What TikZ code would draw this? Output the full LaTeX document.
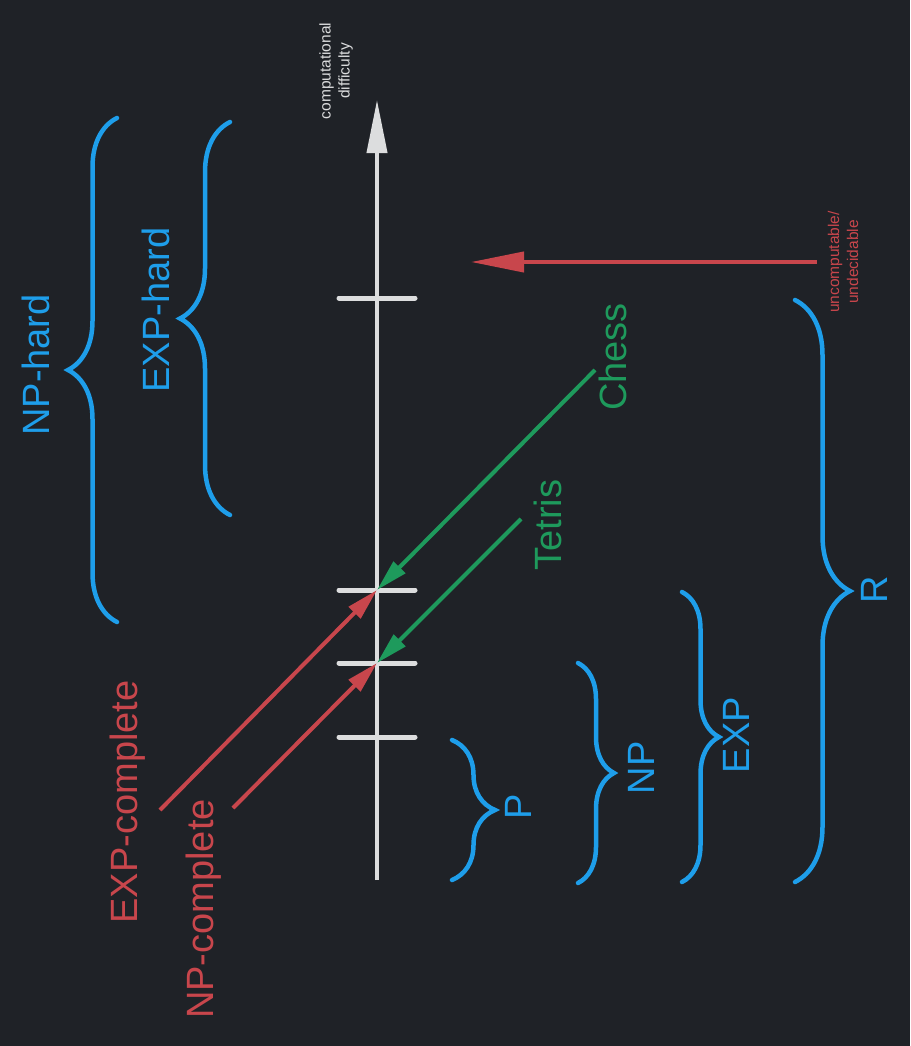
\documentclass[tikz,border=0pt]{standalone}
\usepackage{fontspec}
\setmainfont{Liberation Sans}
\usetikzlibrary{arrows.meta,decorations.pathreplacing}
\definecolor{bgdark}{HTML}{1F2227}
\definecolor{setblue}{HTML}{1E9EEA}
\definecolor{hardred}{HTML}{C8464C}
\definecolor{gamegreen}{HTML}{1E9A5C}
\definecolor{axisgray}{HTML}{DCDDDE}
\begin{document}
\begin{tikzpicture}[x=1pt, y=-1pt,
		axis/.style={draw=axisgray, line width=4pt, -{Triangle[length=53pt,width=20pt]}},
		tickmark/.style={draw=axisgray, line width=5pt, line cap=round},
		setbrace/.style={draw=setblue, line width=4.5pt, line cap=round, decorate, decoration={brace, amplitude=#1}},
		biglabel/.style={rotate=90, font=\fontsize{38}{40}\selectfont, inner sep=0pt},
		smalllabel/.style={rotate=90, align=center, font=\fontsize{15.5}{19}\selectfont, inner sep=0pt},
		pointer/.style={line width=4pt, -{Triangle[length=32pt,width=16pt]}}
		]
		\useasboundingbox (0,0) rectangle (910,1046);
		\fill[bgdark] (0,0) rectangle (910,1046);

		% axis and ticks
		\coordinate (axbot) at (377,880);
		\coordinate (axtop) at (377,100);
		\draw[axis] (axbot) -- (axtop);
		\foreach \y/\n in {298/R, 590/E, 663/N, 737/P} {
			\coordinate (t\n) at (377,\y);
			\draw[tickmark] ([xshift=-38pt]t\n) -- ([xshift=38pt]t\n);
		}
		\node[smalllabel, text=axisgray] (difficulty) at (336,71) {computational\\difficulty};

		% classes below
		\coordinate (pTop) at (452,740);   \coordinate (pBot) at (452,880);
		\coordinate (npTop) at (578,663);  \coordinate (npBot) at (578,883);
		\coordinate (expTop) at (682,592); \coordinate (expBot) at (682,882);
		\coordinate (rTop) at (795,300);   \coordinate (rBot) at (795,882);
		\draw[setbrace=43] (pTop) -- (pBot);
		\draw[setbrace=36] (npTop) -- (npBot);
		\draw[setbrace=37] (expTop) -- (expBot);
		\draw[setbrace=55] (rTop) -- (rBot);
		\node[biglabel, text=setblue] (pLabel) at (518,807) {P};
		\node[biglabel, text=setblue] (npLabel) at (641,768) {NP};
		\node[biglabel, text=setblue] (expLabel) at (736,735) {EXP};
		\node[biglabel, text=setblue] (rLabel) at (874,590) {R};

		% hard classes
		\coordinate (nphTop) at (117,118);  \coordinate (nphBot) at (117,622);
		\coordinate (exphTop) at (230,122); \coordinate (exphBot) at (230,515);
		\draw[setbrace=49] (nphBot) -- (nphTop);
		\draw[setbrace=50] (exphBot) -- (exphTop);
		\node[biglabel, text=setblue] (nphLabel) at (36,365) {NP-hard};
		\node[biglabel, text=setblue] (exphLabel) at (156,310) {EXP-hard};

		% undecidable
		\coordinate (undecStart) at (817,262);
		\coordinate (undecEnd) at (471,262);
		\draw[axis, draw=hardred] (undecStart) -- (undecEnd);
		\node[smalllabel, text=hardred] (undecLabel) at (843,262) {uncomputable/\\undecidable};

		% games
		\coordinate (chessStart) at (595,370);
		\coordinate (tetrisStart) at (521,519);
		\draw[pointer, draw=gamegreen, fill=gamegreen] (chessStart) -- (tE);
		\draw[pointer, draw=gamegreen, fill=gamegreen] (tetrisStart) -- (tN);
		\node[biglabel, text=gamegreen] (chessLabel) at (613,357) {Chess};
		\node[biglabel, text=gamegreen] (tetrisLabel) at (548,525) {Tetris};

		% complete problems
		\coordinate (expcStart) at (160,810);
		\coordinate (npcStart) at (233,808);
		\draw[pointer, draw=hardred, fill=hardred] (expcStart) -- (tE);
		\draw[pointer, draw=hardred, fill=hardred] (npcStart) -- (tN);
		\node[biglabel, text=hardred] (expcLabel) at (128,802) {EXP-complete};
		\node[biglabel, text=hardred] (npcLabel) at (204,909) {NP-complete};
\end{tikzpicture}
\end{document}
